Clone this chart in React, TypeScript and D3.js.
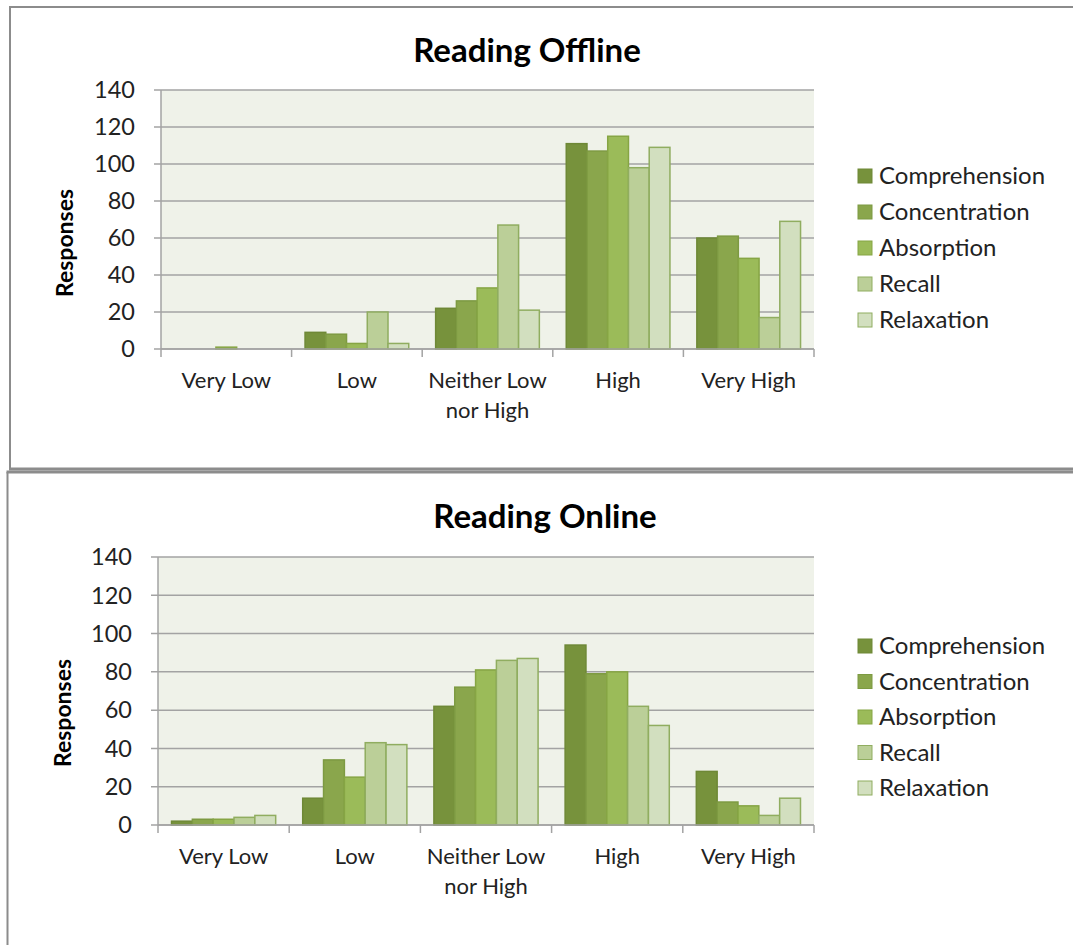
import React from 'react'
import * as d3 from 'd3'

// categories and series
const levels = ['Very Low', 'Low', 'Neither Low nor High', 'High', 'Very High']
const levelLines = [['Very Low'], ['Low'], ['Neither Low', 'nor High'], ['High'], ['Very High']]
const seriesNames = ['Comprehension', 'Concentration', 'Absorption', 'Recall', 'Relaxation']
const seriesFill = ['#77923c', '#8aa64c', '#9bbb59', '#bbcf98', '#d2dfbf']
const seriesStroke = ['#6e8836', '#7d9a42', '#86a544', '#90ad60', '#90ad60']
const yTicks = [0, 20, 40, 60, 80, 100, 120, 140]

// values per level, one array per series
const offlineComprehension = [0, 9, 22, 111, 60]
const offlineConcentration = [0, 8, 26, 107, 61]
const offlineAbsorption = [1, 3, 33, 115, 49]
const offlineRecall = [0, 20, 67, 98, 17]
const offlineRelaxation = [0, 3, 21, 109, 69]

const onlineComprehension = [2, 14, 62, 94, 28]
const onlineConcentration = [3, 34, 72, 79, 12]
const onlineAbsorption = [3, 25, 81, 80, 10]
const onlineRecall = [4, 43, 86, 62, 5]
const onlineRelaxation = [5, 42, 87, 52, 14]

const offline = [offlineComprehension, offlineConcentration, offlineAbsorption, offlineRecall, offlineRelaxation]
const online = [onlineComprehension, onlineConcentration, onlineAbsorption, onlineRecall, onlineRelaxation]

const FONT = 'Lato, "Open Sans", sans-serif'

type PanelProps = {
  title: string
  data: number[][]
  frameLeft: number
  frameTop: number
  frameBottom: number
  left: number
  right: number
  top: number
  bottom: number
  titleX: number
  titleY: number
  yTitleX: number
  yTitleY: number
  legendY: number
  legendStep: number
  closed: boolean
}

function Panel(p: PanelProps) {
  const x = d3.scaleBand<string>().domain(levels).range([p.left, p.right]).paddingInner(0).paddingOuter(0)
  const bw = x.bandwidth()
  const inner = d3.scaleBand<string>()
    .domain(seriesNames)
    .range([bw * 0.103, bw * 0.897])
    .padding(0)
  const y = d3.scaleLinear().domain([0, 140]).range([p.bottom, p.top])
  const gridColor = '#a3a3a3'

  return (
    <g>
      {/* frame */}
      <line x1={p.frameLeft} x2={p.frameLeft} y1={p.frameTop} y2={p.frameBottom} stroke="#8c8c8c" strokeWidth={2} />
      <line x1={p.frameLeft - 1} x2={1080} y1={p.frameTop} y2={p.frameTop} stroke="#8c8c8c" strokeWidth={p.closed ? 2 : 3} />
      {p.closed && (
        <line x1={p.frameLeft - 1} x2={1080} y1={p.frameBottom} y2={p.frameBottom} stroke="#8c8c8c" strokeWidth={3} />
      )}

      <text x={p.titleX} y={p.titleY} textAnchor="middle" fontFamily={FONT} fontWeight="bold" fontSize={33} fill="#000">
        {p.title}
      </text>

      {/* plot area */}
      <rect x={p.left} y={p.top} width={p.right - p.left} height={p.bottom - p.top} fill="#eff2e9" />
      {yTicks.map(t => (
        <g key={t}>
          <line x1={p.left - 7} x2={p.right} y1={y(t)} y2={y(t)} stroke={gridColor} strokeWidth={1.5} />
          <text x={p.left - 26} y={y(t)} dy="0.35em" textAnchor="end" fontFamily={FONT} fontSize={23.5} fill="#222">
            {t}
          </text>
        </g>
      ))}

      {/* bars */}
      {seriesNames.map((s, si) => (
        <g key={s}>
          {levels.map((lv, li) => {
            const v = p.data[si][li]
            if (!v) return null
            const bx = (x(lv) as number) + (inner(s) as number)
            return (
              <rect key={lv} x={bx} y={y(v)} width={inner.bandwidth()} height={y(0) - y(v)}
                fill={seriesFill[si]} stroke={seriesStroke[si]} strokeWidth={1.5} />
            )
          })}
        </g>
      ))}

      {/* axes */}
      <line x1={p.left} x2={p.left} y1={p.top} y2={p.bottom + 8} stroke={gridColor} strokeWidth={1.5} />
      <line x1={p.left} x2={p.right} y1={p.bottom} y2={p.bottom} stroke={gridColor} strokeWidth={1.5} />
      {levels.map(lv => (
        <line key={lv} x1={(x(lv) as number) + bw} x2={(x(lv) as number) + bw} y1={p.bottom} y2={p.bottom + 8}
          stroke={gridColor} strokeWidth={1.5} />
      ))}
      {levels.map((lv, li) => (
        <text key={lv} x={(x(lv) as number) + bw / 2} y={p.bottom + 39} textAnchor="middle" fontFamily={FONT}
          fontSize={22} fill="#222">
          {levelLines[li].map((ln, k) => (
            <tspan key={k} x={(x(lv) as number) + bw / 2} dy={k === 0 ? 0 : 30}>{ln}</tspan>
          ))}
        </text>
      ))}

      <text transform={`translate(${p.yTitleX},${p.yTitleY}) rotate(-90)`} textAnchor="middle"
        fontFamily={FONT} fontWeight="bold" fontSize={23} fill="#000">
        Responses
      </text>

      {/* legend */}
      {seriesNames.map((s, i) => {
        const ly = p.legendY + i * p.legendStep
        return (
          <g key={s}>
            <rect x={858} y={ly - 7} width={14} height={14} fill={seriesFill[i]} stroke={seriesStroke[i]} strokeWidth={1} />
            <text x={879} y={ly} dy="0.35em" fontFamily={FONT} fontSize={24} fill="#222">{s}</text>
          </g>
        )
      })}
    </g>
  )
}

export default function App() {
  return (
    <svg width={1073} height={945} style={{ position: 'absolute', left: 0, top: 0, background: '#fff' }}>
      <Panel title="Reading Offline" data={offline} frameLeft={10} frameTop={7} frameBottom={469} closed
        left={161} right={814} top={90} bottom={349} titleX={527} titleY={62} yTitleX={73} yTitleY={243}
        legendY={176} legendStep={36} />
      <Panel title="Reading Online" data={online} frameLeft={7.5} frameTop={472} frameBottom={950} closed={false}
        left={158} right={814} top={557} bottom={825} titleX={545} titleY={528} yTitleX={71} yTitleY={713}
        legendY={646} legendStep={35.5} />
    </svg>
  )
}
